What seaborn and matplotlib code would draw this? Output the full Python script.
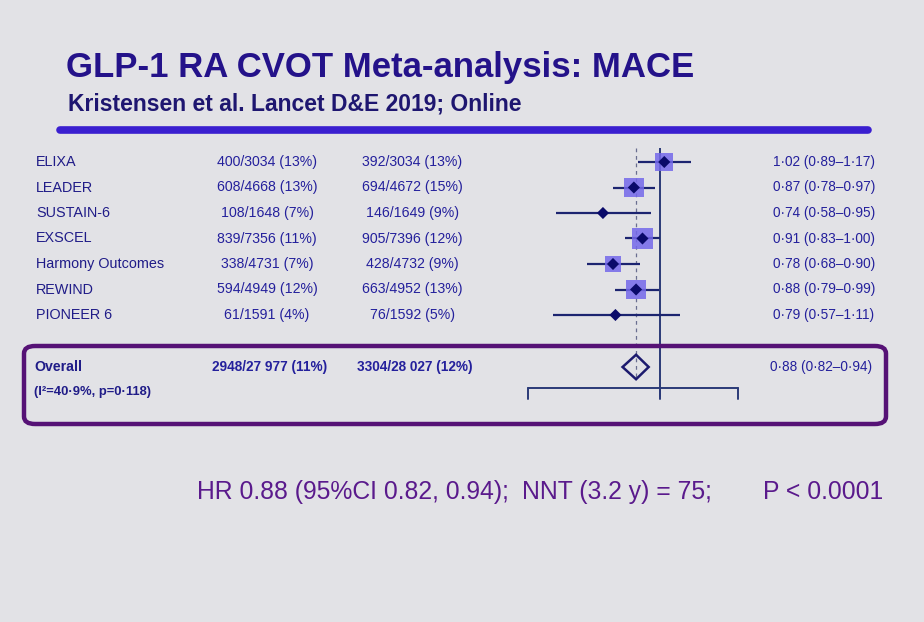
import numpy as np
import pandas as pd
import matplotlib
matplotlib.use("Agg")
import matplotlib.pyplot as plt
from matplotlib.patches import FancyBboxPatch, Polygon
from matplotlib.lines import Line2D
from matplotlib.ticker import NullLocator, NullFormatter
import matplotlib.transforms as mtransforms
import seaborn as sns

# ---------------- data ----------------
studies = ["ELIXA", "LEADER", "SUSTAIN-6", "EXSCEL", "Harmony Outcomes", "REWIND", "PIONEER 6"]
glp1_events = ["400/3034 (13%)", "608/4668 (13%)", "108/1648 (7%)", "839/7356 (11%)",
               "338/4731 (7%)", "594/4949 (12%)", "61/1591 (4%)"]
placebo_events = ["392/3034 (13%)", "694/4672 (15%)", "146/1649 (9%)", "905/7396 (12%)",
                  "428/4732 (9%)", "663/4952 (13%)", "76/1592 (5%)"]
hr = [1.02, 0.87, 0.74, 0.91, 0.78, 0.88, 0.79]
ci_low = [0.89, 0.78, 0.58, 0.83, 0.68, 0.79, 0.57]
ci_high = [1.17, 0.97, 0.95, 1.00, 0.90, 0.99, 1.11]
weights = [14.0, 15.5, 0.0, 17.0, 13.0, 15.0, 0.0]   # visible box sizes (relative weight)
hr_labels = ["1·02 (0·89–1·17)", "0·87 (0·78–0·97)", "0·74 (0·58–0·95)", "0·91 (0·83–1·00)",
             "0·78 (0·68–0·90)", "0·88 (0·79–0·99)", "0·79 (0·57–1·11)"]

overall_label = "Overall"
overall_het = "(I²=40·9%, p=0·118)"
overall_glp1 = "2948/27 977 (11%)"
overall_placebo = "3304/28 027 (12%)"
overall_hr, overall_lo, overall_hi = 0.88, 0.82, 0.94
overall_hr_label = "0·88 (0·82–0·94)"

axis_ticks = [0.5, 1.0, 1.5]

title = "GLP-1 RA CVOT Meta-analysis: MACE"
subtitle = "Kristensen et al. Lancet D&E 2019; Online"
footer = ["HR 0.88 (95%CI 0.82, 0.94);", "NNT (3.2 y) = 75;", "P < 0.0001"]

# ---------------- style ----------------
W, H = 924, 622
BG = "#e2e2e6"
TEXTBLUE = "#24209c"
NAMEBLUE = "#201c88"
PURPLE = "#561276"

sns.set_theme(style="white")
plt.rcParams["font.family"] = ["Liberation Sans", "DejaVu Sans"]

fig = plt.figure(figsize=(W / 100, H / 100), dpi=100)
fig.patch.set_facecolor(BG)

def fx(px):
    return px / W

def fy(py):
    return 1 - py / H

# forest axis: pixel box x 528..738, y 148..400
ax = fig.add_axes([fx(528), fy(400), fx(738) - fx(528), fy(148) - fy(400)])
ax.set_facecolor("none")
ax.set_xscale("log")
ax.set_xlim(axis_ticks[0], axis_ticks[-1])
row_top_px, row_step_px = 162.0, 25.5
ax.set_ylim((400 - row_top_px) / row_step_px, (148 - row_top_px) / row_step_px)
for s in ax.spines.values():
    s.set_visible(False)
ax.xaxis.set_major_locator(NullLocator())
ax.xaxis.set_minor_locator(NullLocator())
ax.xaxis.set_major_formatter(NullFormatter())
ax.xaxis.set_minor_formatter(NullFormatter())
ax.set_yticks([])

n = len(studies)
rows = np.arange(n)
overall_row = (367 - row_top_px) / row_step_px
axis_row = (388 - row_top_px) / row_step_px

df = pd.DataFrame({"study": studies, "hr": hr, "lo": ci_low, "hi": ci_high,
                   "w": weights, "row": rows})

# reference lines
ax.plot([1.0, 1.0], [-0.55, axis_row + 0.3], color="#2a3a78", lw=1.4, zorder=1)
ax.plot([overall_hr, overall_hr], [-0.55, overall_row + 0.45], color="#6a6e90", lw=0.9,
        ls=(0, (3, 3)), zorder=1)

# CIs
ax.hlines(df["row"], df["lo"], df["hi"], color="#1c2470", lw=1.6, zorder=2)
# weight squares
dfw = df[df["w"] > 0]
sns.scatterplot(data=dfw, x="hr", y="row", size="w", sizes=(140, 240), marker="s",
                color="#7468ea", alpha=0.85, edgecolor="none", legend=False, ax=ax, zorder=3)
# point diamonds
sns.scatterplot(data=df, x="hr", y="row", marker="D", s=38, color="#0a0a6a",
                edgecolor="none", legend=False, ax=ax, zorder=4)
ax.set_xlabel("")
ax.set_ylabel("")

# overall diamond
hh = 0.48
diamond = Polygon([[overall_lo, overall_row], [overall_hr, overall_row - hh],
                   [overall_hi, overall_row], [overall_hr, overall_row + hh]],
                  closed=True, facecolor="none", edgecolor="#1c1a6e", lw=1.8, zorder=4)
ax.add_patch(diamond)

# bottom axis with end ticks
ax.plot([axis_ticks[0], axis_ticks[-1]], [axis_row, axis_row], color="#2a3a78", lw=1.4,
        clip_on=False)
for t in axis_ticks:
    ax.plot([t, t], [axis_row, axis_row + 0.45], color="#2a3a78", lw=1.4, clip_on=False)

# text columns (x in figure coords, y in data rows)
trans = mtransforms.blended_transform_factory(fig.transFigure, ax.transData)
fs = 10.2
for i in range(n):
    ax.text(fx(36), rows[i], studies[i], transform=trans, fontsize=10.4, color=NAMEBLUE,
            ha="left", va="center")
    ax.text(fx(267), rows[i], glp1_events[i], transform=trans, fontsize=fs, color=TEXTBLUE,
            ha="center", va="center")
    ax.text(fx(412), rows[i], placebo_events[i], transform=trans, fontsize=fs, color=TEXTBLUE,
            ha="center", va="center")
    ax.text(fx(773), rows[i], hr_labels[i], transform=trans, fontsize=9.8, color=TEXTBLUE,
            ha="left", va="center")

ax.text(fx(34), overall_row, overall_label, transform=trans, fontsize=10.2, color=NAMEBLUE,
        ha="left", va="center", fontweight="bold")
ax.text(fx(34), overall_row + 1.0, overall_het, transform=trans, fontsize=9.4, color=NAMEBLUE,
        ha="left", va="center", fontweight="bold")
ax.text(fx(212), overall_row, overall_glp1, transform=trans, fontsize=9.8, color=TEXTBLUE,
        ha="left", va="center", fontweight="bold")
ax.text(fx(357), overall_row, overall_placebo, transform=trans, fontsize=9.8, color=TEXTBLUE,
        ha="left", va="center", fontweight="bold")
ax.text(fx(770), overall_row, overall_hr_label, transform=trans, fontsize=9.8, color=TEXTBLUE,
        ha="left", va="center")

# overall rounded box
box = FancyBboxPatch((fx(24), fy(424)), fx(886) - fx(24), fy(346) - fy(424),
                     boxstyle="round,pad=0,rounding_size=0.012", transform=fig.transFigure,
                     facecolor="none", edgecolor=PURPLE, lw=3.2, zorder=5)
fig.patches.append(box)

# title, subtitle, rule
fig.text(fx(66), fy(67), title, fontsize=25, fontweight="bold", color="#24128a",
         ha="left", va="center")
fig.text(fx(68), fy(104), subtitle, fontsize=16.5, fontweight="bold", color="#1e1670",
         ha="left", va="center")
fig.add_artist(Line2D([fx(60), fx(868)], [fy(130), fy(130)], color="#3a1fd0", lw=5.5,
                      solid_capstyle="round"))

# footer
footer_x = [197, 522, 763]
footer_size = [17.8, 17.8, 17.8]
for txt, xp, sz in zip(footer, footer_x, footer_size):
    fig.text(fx(xp), fy(492), txt, fontsize=sz, color="#5a1a8c", ha="left", va="center")

fig.savefig("out.png", dpi=100, facecolor=BG)
